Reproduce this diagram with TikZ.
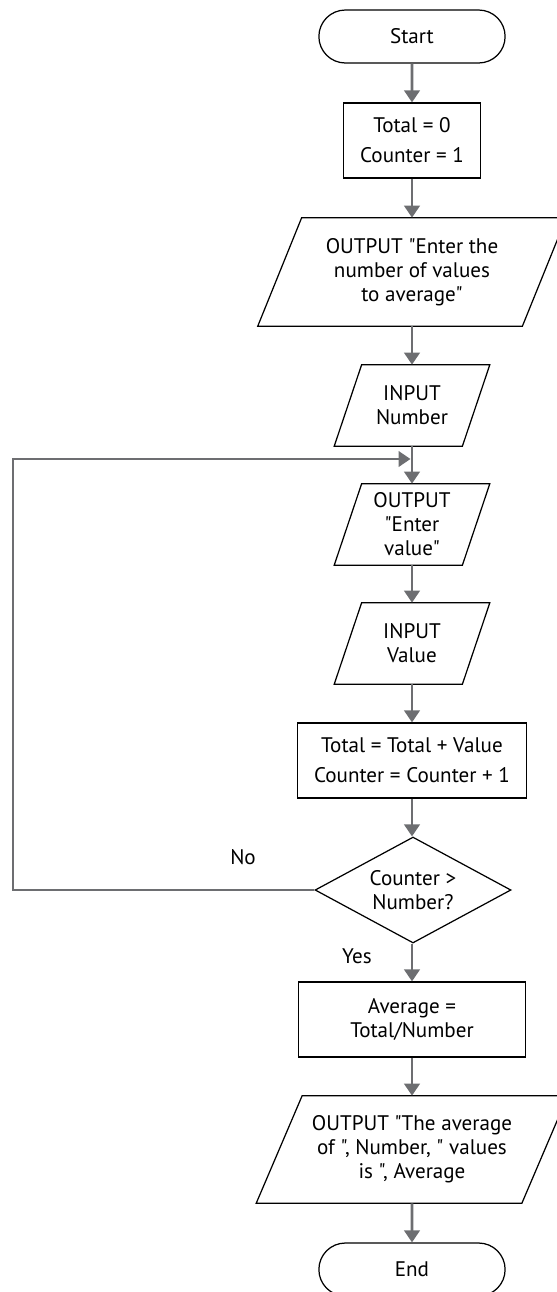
\documentclass[tikz,border=0pt]{standalone}
\usepackage{fontspec}
\setmainfont{PT Sans}[Ligatures=TeXOff]
\usepackage{tikz}
\usetikzlibrary{positioning,arrows.meta,calc,shapes.geometric,shapes.misc}
\definecolor{arrowgray}{RGB}{109,110,113}
\tikzset{
  flowline/.style={-{Triangle[length=2.4mm, width=3.1mm]}, line width=1.5pt, draw=arrowgray},
  termnode/.style={draw, rounded rectangle, line width=0.7pt, minimum width=3.96cm, minimum height=1.06cm, align=center},
  procnode/.style={draw, rectangle, line width=0.7pt, minimum height=1.5cm, align=center},
  ionode/.style={rectangle, inner sep=0pt, align=center},
  ioline/.style={line width=0.7pt, line join=miter},
  decnode/.style={draw, diamond, aspect=1.85, inner sep=0pt, line width=0.7pt, minimum width=3.92cm, minimum height=2.12cm, align=center},
  tallfont/.style={font=\fontsize{12pt}{17pt}\selectfont},
  lbl/.style={inner sep=1pt}
}
\begin{document}
\begin{tikzpicture}[x=0.02cm, y=-0.02cm, every node/.style={font=\fontsize{12pt}{13.7pt}\selectfont}]
  \useasboundingbox (0,0) rectangle (556,1292);
  \node[termnode] (start) at (412,36.5) {Start};
  \node[procnode, tallfont, minimum width=2.74cm] (init) at (412,140.5) {Total = 0\\Counter = 1};
  \node[ionode, minimum width=5.28cm, minimum height=2.16cm] (out1) at (412,272) {OUTPUT "Enter the\\number of values\\to average"};
  \node[ionode, minimum width=2.55cm, minimum height=1.62cm] (in1) at (412,405.5) {INPUT\\Number};
  \node[ionode, minimum width=2.55cm, minimum height=1.62cm] (out2) at (412,524.5) {OUTPUT\\"Enter\\value"};
  \node[ionode, minimum width=2.55cm, minimum height=1.62cm] (in2) at (412,643.5) {INPUT\\Value};
  \node[procnode, tallfont, minimum width=4.58cm] (update) at (412,760.5) {Total = Total + Value\\Counter = Counter + 1};
  \node[decnode] (dec) at (413,890) {Counter >\\Number?};
  \node[procnode, minimum width=4.54cm] (avg) at (412,1019.5) {Average =\\Total/Number};
  \node[ionode, minimum width=5.3cm, minimum height=2.14cm] (out3) at (412,1149.5) {OUTPUT "The average\\of ", Number, " values\\is ", Average};
  \node[termnode] (end) at (412,1269.5) {End};
  \node[lbl] (no) at (243,857) {No};
  \node[lbl] (yes) at (357,956) {Yes};
  \foreach \n/\s in {out1/22, in1/13.75, out2/13.75, in2/13.75, out3/23}
    \draw[ioline] ($(\n.south west)+(-\s,0)$) -- ($(\n.south east)+(-\s,0)$) -- ($(\n.north east)+(\s,0)$) -- ($(\n.north west)+(\s,0)$) -- cycle;
  \coordinate (merge) at (410.5,459);
  \coordinate (loopleft) at (13,459);
  \draw[flowline] (start) -- (init);
  \draw[flowline] (init) -- (out1);
  \draw[flowline] (out1) -- (in1);
  \draw[flowline] (in1) -- (out2);
  \draw[flowline] (out2) -- (in2);
  \draw[flowline] (in2) -- (update);
  \draw[flowline] (update) -- (update |- dec.north);
  \draw[flowline] (dec.south -| avg.north) -- (avg);
  \draw[flowline] (avg) -- (out3);
  \draw[flowline] (out3) -- (end);
  \draw[flowline] (dec.west) -| (loopleft) -- (merge);
\end{tikzpicture}
\end{document}
